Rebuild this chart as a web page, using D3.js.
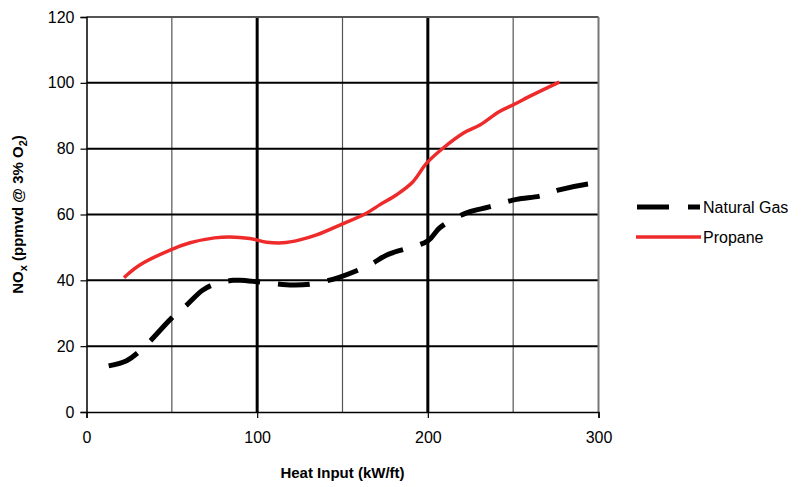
<!DOCTYPE html>
<html>
<head>
<meta charset="utf-8">
<script src="https://cdn.jsdelivr.net/npm/d3@7"></script>
<style>
  body { margin: 0; background: #fff; }
  text { font-family: "Liberation Sans", Arial, sans-serif; }
</style>
</head>
<body>
<div id="chart"></div>
<script>
// values
var gasX = [13, 23.5, 30, 37, 50, 58.7, 68, 76, 86, 90, 101.6, 121, 133, 148.5, 166, 176, 200, 207, 222.7, 236, 252, 265.7, 277, 293, 300];
var gasY = [14, 15.6, 18, 21.4, 28.6, 32.5, 37, 39, 40, 40, 39.5, 38.6, 39, 41, 44.7, 47.7, 52, 56, 60.5, 62.3, 64.6, 65.6, 67.5, 69.2, 69.6];
var propX = [22, 24.5, 31, 49, 60.7, 75, 84, 95.8, 105.6, 115, 125, 134.8, 148.5, 164, 172, 181.7, 191, 199.3, 209, 220.7, 230.5, 242, 250, 261.7, 277];
var propY = [40.8, 42, 44.6, 49.2, 51.4, 52.9, 53.2, 52.7, 51.6, 51.4, 52.3, 53.8, 56.8, 60.4, 63, 66, 69.8, 75.6, 80.2, 84.7, 87.2, 91.3, 93.3, 96.4, 100.2];
var xTicks = [0, 100, 200, 300];
var xMinor = [50, 150, 250];
var yTicks = [0, 20, 40, 60, 80, 100, 120];
var seriesNames = ["Natural Gas", "Propane"];

var W = 804, H = 487;
var L = 86.5, R = 598.5, T = 17, B = 412;

var svg = d3.select("#chart").append("svg")
  .attr("width", W)
  .attr("height", H);

var x = d3.scaleLinear().domain([0, 300]).range([L, R]);
var y = d3.scaleLinear().domain([0, 120]).range([B, T]);

// minor vertical grid
svg.selectAll(".vminor").data(xMinor).enter().append("line")
  .attr("x1", d => x(d)).attr("x2", d => x(d))
  .attr("y1", T).attr("y2", B)
  .attr("stroke", "#555").attr("stroke-width", 1.2);

// horizontal grid
svg.selectAll(".hgrid").data(yTicks.slice(1, -1)).enter().append("line")
  .attr("x1", L).attr("x2", R)
  .attr("y1", d => y(d)).attr("y2", d => y(d))
  .attr("stroke", "#000").attr("stroke-width", 2);

// major vertical grid
svg.selectAll(".vmajor").data([100, 200]).enter().append("line")
  .attr("x1", d => x(d)).attr("x2", d => x(d))
  .attr("y1", T).attr("y2", B)
  .attr("stroke", "#000").attr("stroke-width", 3);

// frame top / right
svg.append("line").attr("x1", L).attr("x2", R).attr("y1", T).attr("y2", T)
  .attr("stroke", "#555").attr("stroke-width", 2);
svg.append("line").attr("x1", R).attr("x2", R).attr("y1", T).attr("y2", B)
  .attr("stroke", "#777").attr("stroke-width", 2);

// axes
var xAxis = svg.append("g")
  .attr("transform", "translate(0," + B + ")")
  .call(d3.axisBottom(x).tickValues(xTicks).tickSize(6).tickPadding(14));
var yAxis = svg.append("g")
  .attr("transform", "translate(" + L + ",0)")
  .call(d3.axisLeft(y).tickValues(yTicks).tickSize(6).tickPadding(6));

[xAxis, yAxis].forEach(function(g) {
  g.select(".domain").attr("stroke", "#000").attr("stroke-width", 1.5);
  g.selectAll(".tick line").attr("stroke", "#000").attr("stroke-width", 1.2);
  g.selectAll(".tick text")
    .attr("fill", "#000")
    .style("font-size", "16px")
    .style("font-family", "Liberation Sans, Arial, sans-serif");
});

var line = d3.line()
  .x(d => x(d[0]))
  .y(d => y(d[1]))
  .curve(d3.curveCatmullRom.alpha(0.5));

var gasData = gasX.map((v, i) => [v, gasY[i]]);
var propData = propX.map((v, i) => [v, propY[i]]);

svg.append("path").datum(gasData)
  .attr("d", line)
  .attr("fill", "none")
  .attr("stroke", "#000")
  .attr("stroke-width", 5)
  .attr("stroke-dasharray", "32,18");

svg.append("path").datum(propData)
  .attr("d", line)
  .attr("fill", "none")
  .attr("stroke", "#ee2a2a")
  .attr("stroke-width", 3.5);

// legend
var leg = svg.append("g");
leg.append("line").attr("x1", 637).attr("x2", 700).attr("y1", 207).attr("y2", 207)
  .attr("stroke", "#000").attr("stroke-width", 5).attr("stroke-dasharray", "32,19");
leg.append("line").attr("x1", 636).attr("x2", 701).attr("y1", 237).attr("y2", 237)
  .attr("stroke", "#ee2a2a").attr("stroke-width", 3.5);
leg.selectAll("text").data(seriesNames).enter().append("text")
  .attr("x", 703)
  .attr("y", (d, i) => 207 + i * 30)
  .attr("dy", "0.35em")
  .style("font-size", "16px")
  .text(d => d);

// axis titles
svg.append("text")
  .attr("x", (L + R) / 2)
  .attr("y", 478)
  .attr("text-anchor", "middle")
  .style("font-size", "15px")
  .style("font-weight", "bold")
  .text("Heat Input (kW/ft)");

var yl = svg.append("text")
  .attr("transform", "translate(23," + (T + B) / 2 + ") rotate(-90)")
  .attr("text-anchor", "middle")
  .style("font-size", "15px")
  .style("font-weight", "bold");
yl.append("tspan").text("NO");
yl.append("tspan").attr("dy", 4).style("font-size", "11px").text("x");
yl.append("tspan").attr("dy", -4).text(" (ppmvd @ 3% O");
yl.append("tspan").attr("dy", 4).style("font-size", "11px").text("2");
yl.append("tspan").attr("dy", -4).text(")");
</script>
</body>
</html>
